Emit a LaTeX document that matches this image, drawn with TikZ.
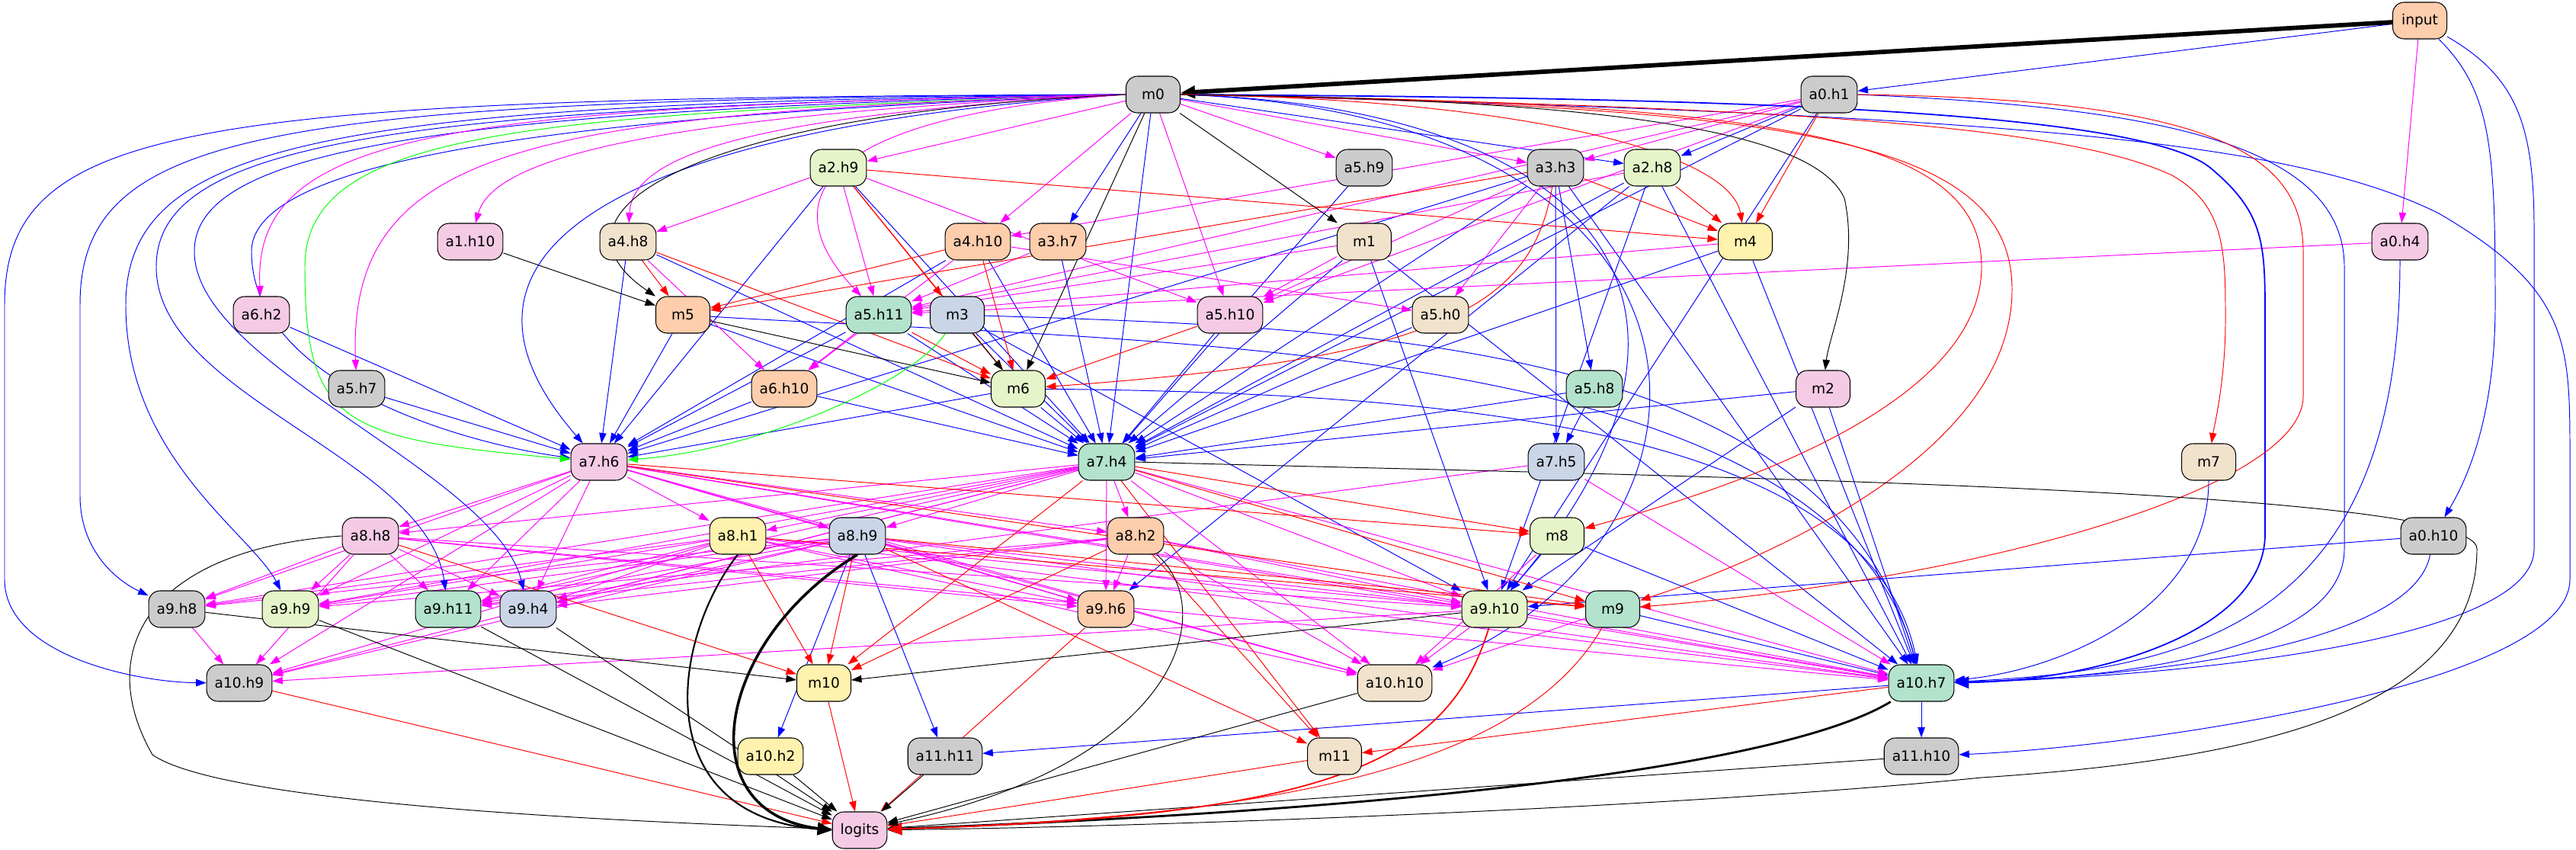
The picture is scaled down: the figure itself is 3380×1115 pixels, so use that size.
\documentclass[tikz,border=0pt]{standalone}
\usepackage{fontspec}
\setmainfont{DejaVu Sans}
\usetikzlibrary{arrows.meta}
\definecolor{pgray}{HTML}{CCCCCC}
\definecolor{ppeach}{HTML}{FDCDAC}
\definecolor{ppink}{HTML}{F4CAE4}
\definecolor{pgreen}{HTML}{E6F5C9}
\definecolor{pmint}{HTML}{B3E2CD}
\definecolor{pblue}{HTML}{CBD5E8}
\definecolor{pyellow}{HTML}{FFF2AE}
\definecolor{pbeige}{HTML}{F1E2CC}
\definecolor{eblue}{HTML}{0000FF}
\definecolor{emag}{HTML}{FF00FF}
\definecolor{ered}{HTML}{FF0000}
\definecolor{egreen}{HTML}{00FF00}
\pgfdeclarelayer{edges}
\pgfsetlayers{edges,main}
\begin{document}
\begin{tikzpicture}[
  x=0.02cm, y=-0.02cm,
  gnode/.style={draw, line width=0.6pt, rounded corners=0.3cm, minimum width=1.42cm, minimum height=0.96cm, inner xsep=0.21cm, inner ysep=0pt, font=\fontsize{10.6}{12}\selectfont},
  conn/.style={line width=0.55pt, -{Triangle[length=0.27cm,width=0.19cm]}},
  heavy/.style={line width=#1, -{Triangle[length=0.38cm,width=0.32cm]}},
]
  \useasboundingbox (0,0) rectangle (3380,1115);
  % nodes, row by row
  \foreach \nm/\lbl/\x/\y/\col in {
    input/input/3175/27/ppeach,
    m0/m0/1513/124/pgray, a0h1/a0.h1/2400/124/pgray,
    a2h9/a2.h9/1100/220/pgreen, a5h9/a5.h9/1790/220/pgray, a3h3/a3.h3/2041/220/pgray, a2h8/a2.h8/2168/220/pgreen,
    a1h10/a1.h10/617/317/ppink, a4h8/a4.h8/824/317/pbeige, a4h10/a4.h10/1283/317/ppeach, a3h7/a3.h7/1388/317/ppeach,
    m1/m1/1790/317/pbeige, m4/m4/2290/317/pyellow, a0h4/a0.h4/3149/317/ppink,
    a6h2/a6.h2/343/413/ppink, m5/m5/896/413/ppeach, a5h11/a5.h11/1153/413/pmint, m3/m3/1256/413/pblue,
    a5h10/a5.h10/1614/413/ppink, a5h0/a5.h0/1890/413/pbeige,
    a5h7/a5.h7/468/510/pgray, a6h10/a6.h10/1029/510/ppeach, m6/m6/1336/510/pgreen, a5h8/a5.h8/2092/510/pmint, m2/m2/2392/510/ppink,
    a7h6/a7.h6/786/606/ppink, a7h4/a7.h4/1452/606/pmint, a7h5/a7.h5/2042/606/pblue, m7/m7/2898/606/pbeige,
    a8h8/a8.h8/486/703/ppink, a8h1/a8.h1/968/703/pyellow, a8h9/a8.h9/1125/703/pblue, a8h2/a8.h2/1490/703/ppeach,
    m8/m8/2043/703/pgreen, a0h10/a0.h10/3193/703/pgray,
    a9h8/a9.h8/232/799/pgray, a9h9/a9.h9/381/799/pgreen, a9h11/a9.h11/588/799/pmint, a9h4/a9.h4/693/799/pblue,
    a9h6/a9.h6/1451/799/ppeach, a9h10/a9.h10/1961/799/pgreen, m9/m9/2116/799/pmint,
    a10h9/a10.h9/314/896/pgray, m10/m10/1081/896/pyellow, a10h10/a10.h10/1830/896/pbeige, a10h7/a10.h7/2521/896/pmint,
    a10h2/a10.h2/1011/992/pyellow, a11h11/a11.h11/1240/992/pgray, m11/m11/1751/992/pbeige, a11h10/a11.h10/2521/992/pgray,
    logits/logits/1128/1089/ppink%
  }{\node[gnode, fill=\col] (\nm) at (\x,\y) {\lbl};}

  \begin{pgfonlayer}{edges}
  % blue edges
  \foreach \s/\t in {input/a0h1, m0/a3h7, m0/a2h8, a0h1/a2h8,
    a6h2/a7h6, a5h7/a7h6, a4h8/a7h6, m5/a7h6, a2h9/a7h6, a6h10/a7h6, a4h10/a7h6, a5h11/a7h6, m6/a7h6, a3h3/a7h6,
    m6/a7h4, a4h10/a7h4, a3h7/a7h4, a5h10/a7h4, m1/a7h4, m3/a7h4, a5h11/a7h4, a2h9/a7h4, m5/a7h4, a4h8/a7h4,
    a6h10/a7h4, m0/a7h4, a5h9/a7h4, a5h0/a7h4, a3h3/a7h4, a2h8/a7h4, a5h8/a7h4, m2/a7h4, m4/a7h4, a0h1/a7h4,
    a5h8/a7h5, a3h3/a7h5, a3h3/a5h8,
    m8/a9h10, m8/a10h7, m9/a10h7, a0h10/a9h10, m3/a9h10, m1/a9h10, a2h8/a9h10, m2/a9h10, a0h1/a9h10,
    a8h9/a10h2, a8h9/a11h11, a10h7/a11h11, a10h7/a11h10, a2h8/a9h6,
    m2/a10h7, m4/a10h7, a2h8/a10h7, a3h3/a10h7, m1/a10h7}
    \draw[conn, eblue] (\s) -- (\t);
  % magenta edges
  \foreach \s/\t in {m0/a2h9, m0/a5h9, m0/a3h3, m0/a4h10, m0/a5h10,
    a0h1/a3h3, a0h1/a4h10, a0h1/a5h11, a0h1/a5h10, input/a0h4,
    a2h9/a4h8, a2h9/a5h11, a2h9/a5h10, a3h3/a5h0, a3h3/a5h10, a3h7/a5h11, a4h10/a5h0, a4h10/a6h10,
    a4h8/a6h10, a5h11/a6h10, m1/a5h10, m1/a5h11, a2h8/a5h11, m4/a5h11, a0h4/a5h11,
    a7h6/a8h8, a7h6/a8h1, a7h6/a8h9, a7h6/a8h2, a7h6/a9h8, a7h6/a9h9, a7h6/a9h11, a7h6/a9h4,
    a7h6/a9h6, a7h6/a10h9, a7h6/a10h10, a7h6/a9h10, a7h6/a10h7,
    a7h4/a8h8, a7h4/a8h1, a7h4/a8h9, a7h4/a8h2, a7h4/a9h8, a7h4/a9h9, a7h4/a9h11, a7h4/a9h4,
    a7h4/a9h6, a7h4/a9h10, a7h4/a10h9, a7h4/a10h10, a7h4/a10h7,
    a7h5/a9h11, a7h5/a10h7,
    a8h8/a9h8, a8h8/a9h9, a8h8/a9h11, a8h8/a9h4, a8h8/a9h6, a8h8/a10h9, a8h8/a9h10, a8h8/a10h7,
    a8h1/a9h8, a8h1/a9h9, a8h1/a9h11, a8h1/a9h4, a8h1/a9h6, a8h1/a9h10, a8h1/a10h10, a8h1/a10h7, a8h1/a10h9,
    a8h9/a9h8, a8h9/a9h9, a8h9/a9h11, a8h9/a9h4, a8h9/a9h6, a8h9/a9h10, a8h9/a10h9, a8h9/a10h10, a8h9/a10h7,
    a8h2/a9h9, a8h2/a9h4, a8h2/a9h6, a8h2/a9h10, a8h2/a10h10, a8h2/a10h7, a8h2/a9h11,
    a9h8/a10h9, a9h10/a10h9, a9h10/a10h10, a9h10/a10h7, m8/a10h10, m9/a10h10}
    \draw[conn, emag] (\s) -- (\t);
  % red edges
  \foreach \s/\t in {a0h1/m4, a2h9/m4, a3h3/m4, a2h8/m4, a2h9/m3, a2h9/m6, a3h3/m5,
    a4h8/m5, a4h8/m6, a4h10/m5, a4h10/m6, a5h11/m6, a5h10/m6,
    a7h6/m8, a7h6/m9, a7h4/m8, a7h4/m9, a7h4/m10, a7h4/m11,
    a8h8/m10, a8h1/m10, a8h1/m9, a8h9/m10, a8h9/m9, a8h9/m11, a8h2/m10, a8h2/m11, a10h7/m11,
    a9h6/logits, a10h9/logits, m10/logits, m11/logits}
    \draw[conn, ered] (\s) -- (\t);
  % black edges
  \foreach \s/\t in {m0/m1, m0/m6, a1h10/m5, m3/m6, m5/m6, a9h8/m10, a9h10/m10,
    a9h9/logits, a9h11/logits, a9h4/logits, a10h2/logits, a11h11/logits, a10h10/logits, a11h10/logits}
    \draw[conn, black] (\s) -- (\t);

  % long edges round the left side
  \draw[conn, eblue] (m0.west) .. controls (250,128) and (6,160) .. (6,400) -- (6,760) .. controls (6,860) and (180,895) .. (a10h9);
  \draw[conn, eblue] (m0.west) .. controls (350,130) and (105,170) .. (105,400) -- (105,650) .. controls (105,720) and (150,760) .. (a9h8);
  \draw[conn, eblue] (m0.west) .. controls (450,135) and (165,180) .. (165,400) .. controls (165,600) and (330,700) .. (a9h9);
  \draw[conn, eblue] (m0.west) .. controls (500,140) and (205,190) .. (205,350) .. controls (205,520) and (560,600) .. (a9h11);
  \draw[conn, eblue] (m0.west) .. controls (550,145) and (255,200) .. (255,330) .. controls (255,480) and (650,620) .. (a9h4);
  \draw[conn, eblue] (m0.west) .. controls (800,150) and (330,200) .. (330,330) .. controls (330,500) and (600,580) .. (a7h6);
  \draw[conn, eblue] (m0.west) .. controls (900,160) and (520,300) .. (a7h6);
  \draw[conn, egreen] (m0.west) .. controls (700,150) and (400,170) .. (400,350) .. controls (400,560) and (450,575) .. (a7h6);
  \draw[conn, egreen] (m3) .. controls (1200,500) and (1000,590) .. (a7h6);
  \draw[conn, emag] (m0.west) .. controls (600,140) and (330,170) .. (a6h2);
  \draw[conn, emag] (m0.west) .. controls (700,150) and (455,190) .. (a5h7);
  \draw[conn, emag] (m0.west) .. controls (900,150) and (650,200) .. (a1h10);
  \draw[conn, emag] (m0.west) .. controls (1000,150) and (830,200) .. (a4h8);
  \draw[conn, emag] (m0.west) .. controls (1100,150) and (1000,250) .. (a5h11);
  \draw[conn, black] (m0.west) .. controls (900,150) and (700,280) .. (m5);
  \draw[conn, black] (a8h8.west) .. controls (200,720) and (120,850) .. (200,990) .. controls (300,1060) and (900,1080) .. (logits);

  % long edges round the right side
  \draw[heavy=3.3pt, black] (input) -- (m0);
  \draw[heavy=1pt, eblue] (m0.east) .. controls (2200,128) and (2800,140) .. (2900,220) .. controls (2972,280) and (2972,320) .. (2972,420) -- (2972,700) .. controls (2972,830) and (2750,893) .. (a10h7);
  \draw[conn, eblue] (m0.east) .. controls (2600,150) and (3000,180) .. (3200,280) .. controls (3372,380) and (3372,450) .. (3372,600) -- (3372,760) .. controls (3372,900) and (2800,980) .. (a11h10);
  \draw[conn, eblue] (input) .. controls (3300,100) and (3325,160) .. (3325,300) -- (3325,720) .. controls (3325,850) and (2800,890) .. (a10h7);
  \draw[conn, eblue] (input) .. controls (3270,120) and (3274,200) .. (3274,400) .. controls (3274,560) and (3230,640) .. (a0h10);
  \draw[conn, eblue] (a0h1.east) .. controls (2800,140) and (3076,180) .. (3076,350) -- (3076,720) .. controls (3076,850) and (2800,890) .. (a10h7);
  \draw[conn, eblue] (a0h4) .. controls (3149,800) and (2900,880) .. (a10h7);
  \draw[conn, eblue] (a0h10) .. controls (3170,830) and (2900,885) .. (a10h7);
  \draw[conn, eblue] (m7) .. controls (2898,800) and (2700,880) .. (a10h7);
  \draw[conn, eblue] (m3) .. controls (1800,430) and (2400,450) .. (a10h7);
  \draw[conn, eblue] (m5) .. controls (1500,450) and (2400,440) .. (a10h7);
  \draw[conn, eblue] (m6) .. controls (1900,515) and (2450,560) .. (a10h7);
  \draw[conn, eblue] (m0.east) .. controls (2100,140) and (2300,400) .. (a9h10);
  \draw[conn, eblue] (m0.east) .. controls (2300,150) and (2300,700) .. (a10h10);
  \draw[conn, ered] (m0.east) .. controls (2000,130) and (2270,200) .. (m4);
  \draw[conn, ered] (m0.east) .. controls (2300,140) and (2700,160) .. (2850,230) .. controls (2920,270) and (2920,330) .. (2920,420) .. controls (2920,500) and (2905,560) .. (m7);
  \draw[conn, ered] (m0.east) .. controls (2300,135) and (2600,170) .. (2600,350) .. controls (2600,550) and (2200,660) .. (m8);
  \draw[conn, ered] (m0.east) .. controls (2350,140) and (2640,180) .. (2640,380) .. controls (2640,600) and (2300,740) .. (m9);
  \draw[conn, ered] (a0h1.east) .. controls (2900,130) and (3022,200) .. (3022,330) -- (3022,520) .. controls (3022,640) and (2600,760) .. (m9);
  \draw[conn, ered] (a3h3) .. controls (2010,400) and (1900,470) .. (m6);
  \draw[conn, black] (m0.east) .. controls (2100,130) and (2380,170) .. (2420,260) .. controls (2440,350) and (2400,440) .. (m2);

  % edges into logits
  \draw[conn, black] (a7h4.east) .. controls (2200,625) and (3250,640) .. (3250,720) .. controls (3250,950) and (2900,1000) .. (2600,1020) .. controls (2200,1060) and (1500,1085) .. (logits);
  \draw[heavy=1.6pt, black] (a10h7) .. controls (2350,1000) and (1900,1060) .. (logits);
  \draw[heavy=1pt, ered] (a9h10) .. controls (1900,1000) and (1750,1070) .. (logits);
  \draw[conn, ered] (m9) .. controls (2000,1000) and (1700,1070) .. (logits);
  \draw[conn, black] (a8h2) .. controls (1600,800) and (1550,1000) .. (logits);
  \draw[heavy=1.2pt, black] (a8h1.south) .. controls (880,840) and (850,1070) .. (logits.west);
  \draw[heavy=2pt, black] (a8h9.south) .. controls (940,840) and (900,1065) .. (logits.west);
  \end{pgfonlayer}
\end{tikzpicture}
\end{document}
